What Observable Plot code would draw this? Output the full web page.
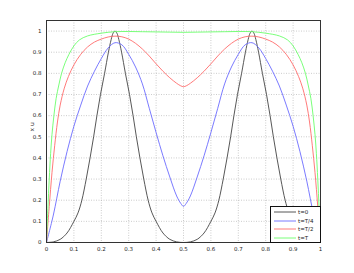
<!DOCTYPE html>
<html><head><meta charset="utf-8">
<script src="https://cdn.jsdelivr.net/npm/d3@7"></script>
<script src="https://cdn.jsdelivr.net/npm/@observablehq/plot@0.6"></script>
<style>
body{margin:0;background:#fff;}
#wrap{position:relative;width:354px;height:273px;}
#legend{position:absolute;left:270px;top:206px;width:49px;height:35px;border:1px solid #111;background:#fff;font-family:"DejaVu Sans",sans-serif;font-size:5.5px;}
.row{position:absolute;left:0;height:8px;display:flex;align-items:center;}
.row svg{display:block;margin-left:3px;}
.row span{margin-left:2px;color:#222;}
</style>
</head><body>
<div id="wrap"></div>
<script>
// tick values
const xTicks = [0,0.1,0.2,0.3,0.4,0.5,0.6,0.7,0.8,0.9,1];
const yTicks = [0,0.1,0.2,0.3,0.4,0.5,0.6,0.7,0.8,0.9,1];
const seriesNames = ["t=0","t=T/4","t=T/2","t=T"];
const seriesColors = ["#444444","#6b6bff","#ff6b6b","#6bff6b"];

// t=0
const x0 = [0,0.025,0.05,0.075,0.1,0.115,0.129,0.145,0.159,0.172,0.184,0.197,0.212,0.226,0.236,0.243,0.25,0.257,0.264,0.274,0.288,0.303,0.316,0.328,0.341,0.355,0.371,0.385,0.4,0.425,0.45,0.475,0.5,
            0.525,0.55,0.575,0.6,0.615,0.629,0.645,0.659,0.672,0.684,0.697,0.712,0.726,0.736,0.743,0.75,0.757,0.764,0.774,0.788,0.803,0.816,0.828,0.841,0.855,0.871,0.885,0.9,0.925,0.95,0.975,1];
const y0 = [0,0.003,0.015,0.045,0.1,0.14,0.2,0.3,0.4,0.5,0.6,0.7,0.8,0.9,0.96,0.99,1,0.99,0.96,0.9,0.8,0.7,0.6,0.5,0.4,0.3,0.2,0.14,0.1,0.045,0.015,0.003,0,
            0.003,0.015,0.045,0.1,0.14,0.2,0.3,0.4,0.5,0.6,0.7,0.8,0.9,0.96,0.99,1,0.99,0.96,0.9,0.8,0.7,0.6,0.5,0.4,0.3,0.2,0.14,0.1,0.045,0.015,0.003,0];
// t=T/4
const x1 = [0,0.025,0.05,0.075,0.1,0.125,0.15,0.175,0.2,0.225,0.25,0.275,0.3,0.325,0.35,0.375,0.4,0.425,0.45,0.475,0.49,0.5,
            0.51,0.525,0.55,0.575,0.6,0.625,0.65,0.675,0.7,0.725,0.75,0.775,0.8,0.825,0.85,0.875,0.9,0.925,0.95,0.975,1];
const y1 = [0,0.13,0.29,0.43,0.55,0.65,0.74,0.81,0.87,0.92,0.945,0.935,0.89,0.83,0.75,0.635,0.52,0.41,0.31,0.22,0.185,0.171,
            0.185,0.22,0.31,0.41,0.52,0.635,0.75,0.83,0.89,0.935,0.945,0.92,0.87,0.81,0.74,0.65,0.55,0.43,0.29,0.13,0];
// t=T/2
const x2 = [0,0.01,0.02,0.03,0.04,0.05,0.065,0.08,0.1,0.125,0.15,0.175,0.2,0.225,0.25,0.275,0.3,0.325,0.35,0.375,0.4,0.425,0.45,0.475,0.49,0.5,
            0.51,0.525,0.55,0.575,0.6,0.625,0.65,0.675,0.7,0.725,0.75,0.775,0.8,0.825,0.85,0.875,0.9,0.92,0.935,0.95,0.96,0.97,0.98,0.99,1];
const y2 = [0,0.17,0.33,0.46,0.57,0.65,0.73,0.785,0.84,0.89,0.925,0.948,0.962,0.972,0.976,0.973,0.962,0.942,0.915,0.882,0.845,0.81,0.779,0.753,0.741,0.737,
            0.741,0.753,0.779,0.81,0.845,0.882,0.915,0.942,0.962,0.973,0.976,0.972,0.962,0.948,0.925,0.89,0.84,0.785,0.73,0.65,0.57,0.46,0.33,0.17,0];
// t=T
const x3 = [0,0.005,0.01,0.015,0.02,0.027,0.035,0.045,0.055,0.068,0.082,0.1,0.12,0.15,0.2,0.25,0.3,0.35,0.4,0.45,0.5,
            0.55,0.6,0.65,0.7,0.75,0.8,0.85,0.88,0.9,0.918,0.932,0.945,0.955,0.965,0.973,0.98,0.985,0.99,0.995,1];
const y3 = [0,0.16,0.3,0.42,0.51,0.6,0.68,0.745,0.8,0.85,0.89,0.93,0.958,0.977,0.99,0.997,0.998,0.997,0.996,0.995,0.994,
            0.995,0.996,0.997,0.998,0.997,0.99,0.977,0.958,0.93,0.89,0.85,0.8,0.745,0.68,0.6,0.51,0.42,0.3,0.16,0];

const allX = [x0,x1,x2,x3], allY = [y0,y1,y2,y3];
const rows = allX.flatMap((xs,i)=>xs.map((x,j)=>({x, y: allY[i][j], s: seriesNames[i]})));

const fmt = d => String(+d.toFixed(1));
const chart = Plot.plot({
  width:354, height:273,
  marginLeft:46, marginRight:34, marginTop:20, marginBottom:31,
  style:{fontFamily:"DejaVu Sans, sans-serif", fontSize:"5.5px", background:"#fff", color:"#222"},
  x:{domain:[0,1]},
  y:{domain:[0,1.05]},
  color:{domain:seriesNames, range:seriesColors},
  marks:[
    Plot.gridX(xTicks,{stroke:"#aaa", strokeOpacity:1, strokeDasharray:"1,1.5", strokeWidth:0.6}),
    Plot.gridY(yTicks,{stroke:"#aaa", strokeOpacity:1, strokeDasharray:"1,1.5", strokeWidth:0.6}),
    Plot.line(rows,{x:"x", y:"y", z:"s", stroke:"s", strokeWidth:0.9, curve:"catmull-rom"}),
    Plot.frame({stroke:"#333", strokeWidth:1}),
    Plot.axisX(xTicks,{tickSize:0, tickPadding:5, tickFormat:fmt, label:null}),
    Plot.axisY(yTicks,{tickSize:0, tickPadding:5, tickFormat:fmt, label:null}),
    Plot.text(["x u"],{frameAnchor:"left", rotate:-90, dx:-14, fontSize:6})
  ]
});
const wrap = document.getElementById("wrap");
wrap.appendChild(chart);

const leg = document.createElement("div");
leg.id = "legend";
seriesNames.forEach((n,i)=>{
  const r = document.createElement("div");
  r.className = "row";
  r.style.top = (1 + i*8.6) + "px";
  r.innerHTML = `<svg width="22" height="4"><line x1="0" y1="2" x2="22" y2="2" stroke="${seriesColors[i]}" stroke-width="0.9"/></svg><span>${n}</span>`;
  leg.appendChild(r);
});
wrap.appendChild(leg);
</script>
</body></html>
